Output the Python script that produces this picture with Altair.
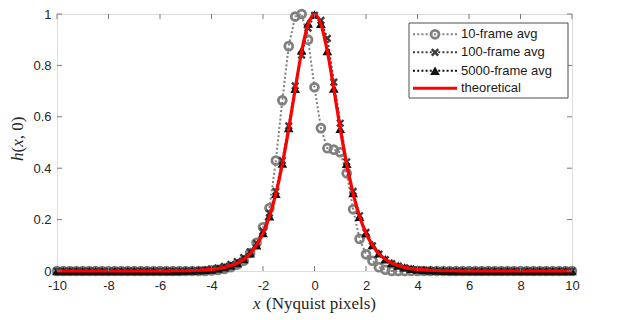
import altair as alt
import pandas as pd

# ---------------- data ----------------
x_pos = [-10.0, -9.75, -9.5, -9.25, -9.0, -8.75, -8.5, -8.25, -8.0, -7.75, -7.5, -7.25,
         -7.0, -6.75, -6.5, -6.25, -6.0, -5.75, -5.5, -5.25, -5.0, -4.75, -4.5, -4.25,
         -4.0, -3.75, -3.5, -3.25, -3.0, -2.75, -2.5, -2.25, -2.0, -1.75, -1.5, -1.25,
         -1.0, -0.75, -0.5, -0.25, 0.0, 0.25, 0.5, 0.75, 1.0, 1.25, 1.5, 1.75, 2.0,
         2.25, 2.5, 2.75, 3.0, 3.25, 3.5, 3.75, 4.0, 4.25, 4.5, 4.75, 5.0, 5.25, 5.5,
         5.75, 6.0, 6.25, 6.5, 6.75, 7.0, 7.25, 7.5, 7.75, 8.0, 8.25, 8.5, 8.75, 9.0,
         9.25, 9.5, 9.75, 10.0]

avg10 = [0, 0, 0, 0, 0, 0, 0, 0, 0, 0, 0, 0,
         0, 0, 0, 0, 0, 0, 0, 0, 0, 0, 0, 0,
         0.002, 0.004, 0.008, 0.015, 0.025, 0.04, 0.07, 0.11, 0.17, 0.245, 0.43, 0.664,
         0.875, 0.99, 1.0, 0.90, 0.715, 0.556, 0.478, 0.472, 0.462, 0.38, 0.24, 0.125, 0.065,
         0.04, 0.015, 0.005, 0, 0, 0, 0, 0, 0, 0, 0, 0, 0, 0,
         0, 0, 0, 0, 0, 0, 0, 0, 0, 0, 0, 0, 0, 0,
         0, 0, 0, 0]

avg100 = [0, 0, 0, 0, 0, 0, 0, 0, 0, 0, 0, 0,
          0, 0, 0, 0, 0, 0, 0, 0, 0, 0, 0.002, 0.004,
          0.008, 0.012, 0.018, 0.026, 0.037, 0.052, 0.075, 0.108, 0.155, 0.225, 0.31, 0.43,
          0.565, 0.72, 0.84, 0.945, 0.995, 0.975, 0.905, 0.735, 0.575, 0.425, 0.31, 0.215, 0.15,
          0.098, 0.066, 0.044, 0.029, 0.019, 0.012, 0.008, 0.005, 0.003, 0.002, 0, 0, 0, 0,
          0, 0, 0, 0, 0, 0, 0, 0, 0, 0, 0, 0, 0, 0,
          0, 0, 0, 0]

avg5000 = [0, 0, 0, 0, 0, 0, 0, 0, 0, 0, 0, 0,
           0, 0, 0, 0, 0, 0, 0, 0, 0.001, 0.002, 0.003, 0.004,
           0.006, 0.010, 0.014, 0.021, 0.031, 0.047, 0.069, 0.100, 0.148, 0.213, 0.300, 0.418,
           0.556, 0.709, 0.858, 0.963, 0.998, 0.962, 0.856, 0.710, 0.553, 0.417, 0.303, 0.211, 0.147,
           0.101, 0.069, 0.046, 0.031, 0.021, 0.014, 0.009, 0.006, 0.004, 0.003, 0.002, 0.001, 0, 0,
           0, 0, 0, 0, 0, 0, 0, 0, 0, 0, 0, 0, 0, 0,
           0, 0, 0, 0]

theory = [0, 0, 0, 0, 0, 0, 0, 0, 0, 0, 0, 0,
          0, 0, 0, 0, 0, 0, 0.001, 0.001, 0.001, 0.002, 0.003, 0.004,
          0.006, 0.009, 0.014, 0.021, 0.031, 0.046, 0.068, 0.101, 0.147, 0.212, 0.301, 0.415,
          0.554, 0.708, 0.854, 0.960, 1.000, 0.960, 0.854, 0.708, 0.554, 0.415, 0.301, 0.212, 0.147,
          0.101, 0.068, 0.046, 0.031, 0.021, 0.014, 0.009, 0.006, 0.004, 0.003, 0.002, 0.001, 0.001, 0.001,
          0, 0, 0, 0, 0, 0, 0, 0, 0, 0, 0, 0, 0, 0,
          0, 0, 0, 0]

x_ticks = [-10, -8, -6, -4, -2, 0, 2, 4, 6, 8, 10]
y_ticks = [0, 0.2, 0.4, 0.6, 0.8, 1]

legend_labels = ["10-frame avg", "100-frame avg", "5000-frame avg", "theoretical"]

for s in (avg10, avg100, avg5000, theory):
    assert len(s) == len(x_pos)

# ---------------- styling ----------------
W, H = 515, 257
BOX = "#7a7a7a"
TXT = "#262626"
C10 = "#808080"
C100 = "#3c3c3c"
C5000 = "#111111"
RED = "#ff0000"
XPATH = "M-1,-1L1,1M1,-1L-1,1"

xs = alt.Scale(domain=[-10, 10], nice=False, zero=False)
ys = alt.Scale(domain=[0, 1], nice=False, zero=False)

x_axis = alt.Axis(values=x_ticks, domain=False, ticks=False, grid=False, title=None,
                  labelExpr="'' + datum.value",
                  labelFont="Liberation Sans", labelFontSize=13, labelColor=TXT,
                  labelPadding=8, labelFlush=False, labelOverlap=False)
y_axis = alt.Axis(values=y_ticks, domain=False, ticks=False, grid=False, title=None,
                  labelExpr="'' + datum.value", labelFont="Liberation Sans",
                  labelFontSize=13, labelColor=TXT, labelPadding=6, labelOverlap=False)


def frame(vals):
    return pd.DataFrame({"x": x_pos, "h": vals})


def enc(ch):
    return ch.encode(
        x=alt.X("x:Q", scale=xs, axis=x_axis),
        y=alt.Y("h:Q", scale=ys, axis=y_axis),
    )


dash = [2, 2.2]

l10 = enc(alt.Chart(frame(avg10)).mark_line(color=C10, strokeWidth=2, strokeDash=dash))
p10 = enc(alt.Chart(frame(avg10)).mark_point(shape="circle", filled=False, color=C10,
                                             strokeWidth=2.8, size=62, opacity=1))
l100 = enc(alt.Chart(frame(avg100)).mark_line(color=C100, strokeWidth=2, strokeDash=dash))
p100 = enc(alt.Chart(frame(avg100)).mark_point(shape=XPATH, filled=False, color=C100,
                                               strokeWidth=2.4, size=42, opacity=1))
l5000 = enc(alt.Chart(frame(avg5000)).mark_line(color=C5000, strokeWidth=2, strokeDash=dash))
p5000 = enc(alt.Chart(frame(avg5000)).mark_point(shape="triangle-up", filled=True,
                                                 color=C5000, size=95, opacity=1))
lth = enc(alt.Chart(frame(theory)).mark_line(color=RED, strokeWidth=3.2,
                                             interpolate="monotone"))

# inward ticks on all four sides
xt = pd.DataFrame({"x": x_ticks})
yt = pd.DataFrame({"h": y_ticks})
TL = 5
tick_b = alt.Chart(xt).mark_rule(color=BOX, strokeWidth=1).encode(
    x=alt.X("x:Q", scale=xs, axis=x_axis), y=alt.value(H), y2=alt.value(H - TL))
tick_t = alt.Chart(xt).mark_rule(color=BOX, strokeWidth=1).encode(
    x=alt.X("x:Q", scale=xs, axis=x_axis), y=alt.value(0), y2=alt.value(TL))
tick_l = alt.Chart(yt).mark_rule(color=BOX, strokeWidth=1).encode(
    y=alt.Y("h:Q", scale=ys, axis=y_axis), x=alt.value(0), x2=alt.value(TL))
tick_r = alt.Chart(yt).mark_rule(color=BOX, strokeWidth=1).encode(
    y=alt.Y("h:Q", scale=ys, axis=y_axis), x=alt.value(W), x2=alt.value(W - TL))

# axis titles (mixed italic, LaTeX-like)
one = pd.DataFrame({"a": [0]})
SERIF = "Liberation Serif"
xt1 = alt.Chart(one).mark_text(text="x", font=SERIF, fontSize=17, fontStyle="italic",
                               align="left", baseline="middle", color=TXT).encode(
    x=alt.value(196), y=alt.value(290))
xt2 = alt.Chart(one).mark_text(text="(Nyquist pixels)", font=SERIF, fontSize=17,
                               align="left", baseline="middle", color=TXT).encode(
    x=alt.value(209), y=alt.value(290))

yx = -39
ypieces = [("h", "italic", 147), ("(", "normal", 138.5), ("x", "italic", 132.8),
           (", 0)", "normal", 125.3)]
ytitle = []
for txt, style, yy in ypieces:
    ytitle.append(alt.Chart(one).mark_text(text=txt, font=SERIF, fontSize=17,
                                           fontStyle=style, angle=270, align="left",
                                           baseline="middle", color=TXT).encode(
        x=alt.value(yx), y=alt.value(yy)))

# legend (box + samples + labels)
leg = [alt.Chart(one).mark_rect(fill="white", stroke="#4d4d4d", strokeWidth=1).encode(
    x=alt.value(352), x2=alt.value(511), y=alt.value(9), y2=alt.value(84))]
rows = [20.3, 38.3, 56.7, 74.3]
lx1, lx2, mx, tx = 356, 400, 378, 404
styles = [
    dict(color=C10, dash=dash, shape="circle", filled=False, sw=2.8, size=62),
    dict(color=C100, dash=dash, shape=XPATH, filled=False, sw=2.4, size=42),
    dict(color=C5000, dash=dash, shape="triangle-up", filled=True, sw=1, size=95),
    dict(color=RED, dash=None, shape=None, filled=False, sw=3, size=0),
]
for lab, ry, st in zip(legend_labels, rows, styles):
    rule_kw = dict(color=st["color"], strokeWidth=2 if st["dash"] else 3)
    if st["dash"]:
        rule_kw["strokeDash"] = st["dash"]
    leg.append(alt.Chart(one).mark_rule(**rule_kw).encode(
        x=alt.value(lx1), x2=alt.value(lx2), y=alt.value(ry)))
    if st["shape"]:
        pkw = dict(shape=st["shape"], filled=st["filled"], color=st["color"],
                   size=st["size"], opacity=1)
        if not st["filled"]:
            pkw["strokeWidth"] = st["sw"]
        leg.append(alt.Chart(one).mark_point(**pkw).encode(
            x=alt.value(mx), y=alt.value(ry)))
    leg.append(alt.Chart(one).mark_text(text=lab, font="Liberation Sans", fontSize=13,
                                        align="left", baseline="middle",
                                        color="#1a1a1a").encode(
        x=alt.value(tx), y=alt.value(ry)))

chart = alt.layer(
    l10, p10, l100, p100, l5000, p5000, lth,
    tick_b, tick_t, tick_l, tick_r,
    xt1, xt2, *ytitle, *leg,
).properties(
    width=W, height=H,
    autosize=alt.AutoSizeParams(type="none"),
    padding={"left": 49, "top": 6, "right": 40, "bottom": 45},
).configure_view(stroke=BOX, strokeWidth=1).configure(background="white")

chart.save("out.html", embed_options={"renderer": "svg", "actions": False})
